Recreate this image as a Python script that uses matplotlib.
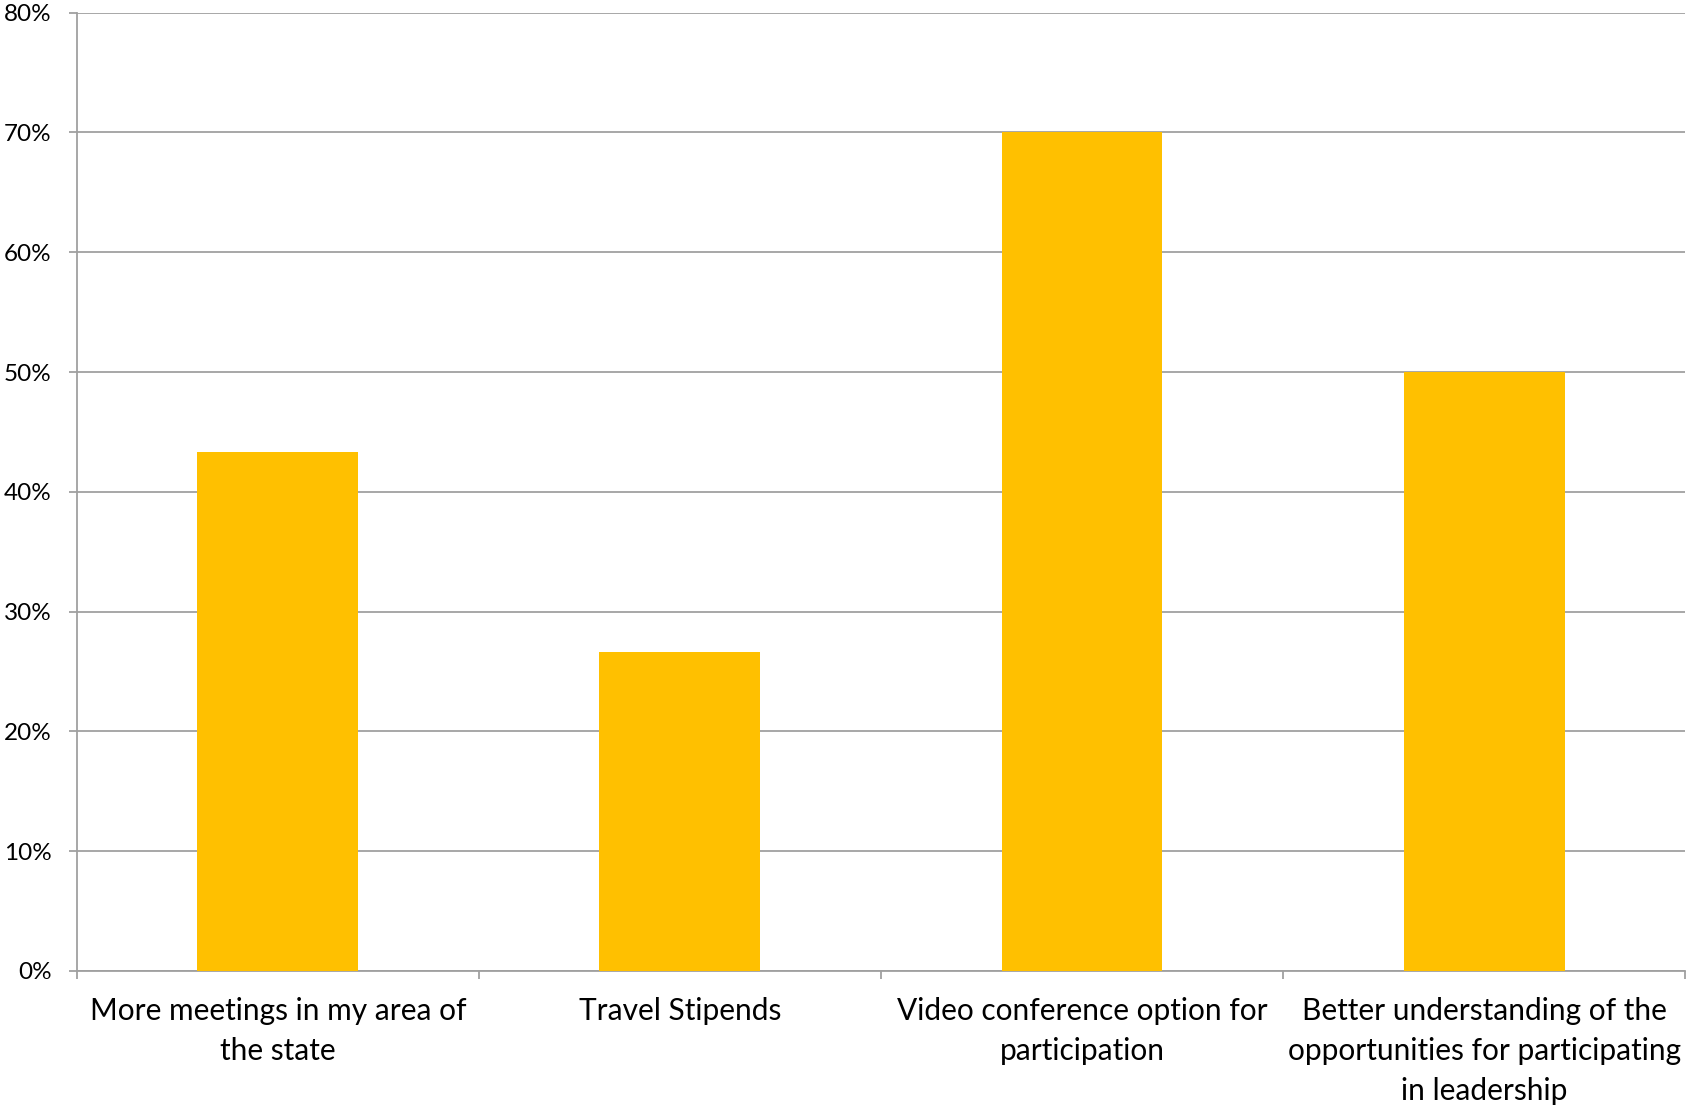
import matplotlib
matplotlib.use("Agg")
import matplotlib.pyplot as plt
from matplotlib.ticker import FixedLocator, PercentFormatter
import numpy as np

categories = [
    "More meetings in my area of\nthe state",
    "Travel Stipends",
    "Video conference option for\nparticipation",
    "Better understanding of the\nopportunities for participating\nin leadership",
]
values = [43.33, 26.67, 70.0, 50.0]
yticks = [0, 10, 20, 30, 40, 50, 60, 70, 80]

plt.rcParams['font.family'] = ['Lato', 'DejaVu Sans']

fig = plt.figure(figsize=(16.86, 11.05), dpi=100)
ax = fig.add_axes([0.0455, 0.1213, 0.9540, 0.8672])

x = np.arange(len(categories))
ax.bar(x, values, width=0.4, color="#FFC000", zorder=3)

ax.set_xlim(-0.5, len(categories) - 0.5)
ax.set_ylim(0, 80)
ax.set_yticks(yticks)
ax.yaxis.set_major_formatter(PercentFormatter(decimals=0))
ax.grid(axis="y", color="#a0a0a0", linewidth=1.3, zorder=0)
ax.set_axisbelow(True)

ax.set_xticks(x)
ax.set_xticklabels(categories, fontsize=21.5, linespacing=1.52, color="black")
ax.xaxis.set_minor_locator(FixedLocator(np.arange(-0.5, len(categories), 1.0)))
ax.tick_params(axis="x", which="major", length=0, pad=19)
ax.tick_params(axis="x", which="minor", length=6, color="#a0a0a0", width=1.3)
ax.tick_params(axis="y", length=6, color="#a0a0a0", width=1.3, labelsize=17.5, pad=12,
               labelcolor="black")

for s in ["top", "right"]:
    ax.spines[s].set_visible(False)
for s in ["left", "bottom"]:
    ax.spines[s].set_color("#a0a0a0")
    ax.spines[s].set_linewidth(1.3)

fig.savefig("out.png", dpi=100, facecolor="white")
